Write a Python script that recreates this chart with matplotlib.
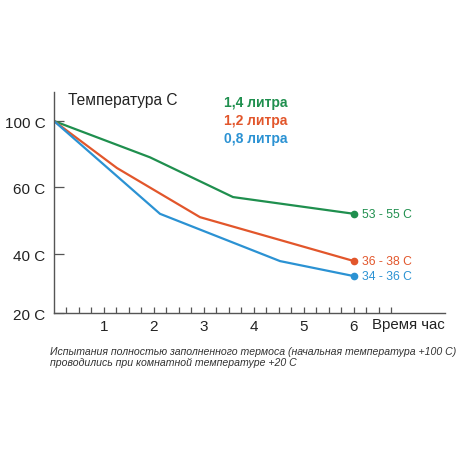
import matplotlib.pyplot as plt
import numpy as np

plt.rcParams['font.family'] = ['Liberation Sans', 'DejaVu Sans']

# Data (hours, temperature C)
hours_14 = [0, 1.92, 3.58, 6]
temp_14 = [100, 78, 57, 52]
hours_12 = [0, 1.26, 2.92, 6]
temp_12 = [100, 71.5, 51, 37.6]
hours_08 = [0, 2.12, 4.52, 6]
temp_08 = [100, 52, 37.6, 32.5]

series_labels = ['1,4 литра', '1,2 литра', '0,8 литра']
end_labels = ['53 - 55 C', '36 - 38 C', '34 - 36 C']
colors = ['#1f8f4e', '#e2562b', '#2b92d3']

ytick_vals = [20, 40, 60, 100]
ytick_labels = ['20 C', '40 C', '60 C', '100 C']
xtick_labels = ['1', '2', '3', '4', '5', '6']
caption = ['Испытания полностью заполненного термоса (начальная температура +100 С)',
           'проводились при комнатной температуре +20 С']

# non-uniform temperature axis (labels are not evenly spaced)
scale_t = [0, 20, 40, 60, 100, 140]
scale_p = [-59, 0, 59, 126, 192, 258]


def fwd(v):
    return np.interp(v, scale_t, scale_p)


def inv(p):
    return np.interp(p, scale_p, scale_t)


fig = plt.figure(figsize=(4.6, 4.6), dpi=100)
ax = fig.add_axes([54 / 460, 146 / 460, 391 / 460, 221 / 460])
ax.set_yscale('function', functions=(fwd, inv))

series = [(hours_14, temp_14), (hours_12, temp_12), (hours_08, temp_08)]
for (h, t), c, lab, end in zip(series, colors, series_labels, end_labels):
    ax.plot(h, t, color=c, lw=1.6, solid_joinstyle='miter')
    ax.plot(h[-1], t[-1], 'o', color=c, ms=4.5)
    ax.annotate(end, (h[-1], t[-1]), xytext=(6, 0), textcoords='offset points',
                color=c, fontsize=8.7, va='center', ha='left')

ax.set_xlim(0, 7.82)
ax.set_ylim(20, 117.6)

xt = np.arange(1, 28) * 0.25
ax.set_xticks(xt)
ax.set_xticklabels([xtick_labels[int(v) - 1] if v == int(v) else '' for v in xt])
ax.tick_params(axis='x', direction='in', length=4.5, width=0.9, colors='#555555',
               labelcolor='#222222', labelsize=11, pad=4.5)

ax.set_yticks(ytick_vals)
ax.set_yticklabels(ytick_labels)
ax.tick_params(axis='y', direction='in', length=7, width=0.9, colors='#555555',
               labelcolor='#222222', labelsize=11, pad=6)

for s in ['top', 'right']:
    ax.spines[s].set_visible(False)
for s in ['left', 'bottom']:
    ax.spines[s].set_color('#555555')
    ax.spines[s].set_linewidth(1.0)

ax.text(0.036, 0.968, 'Температура С', transform=ax.transAxes, fontsize=11.2,
        color='#222222', va='center', ha='left')
for i, (lab, c) in enumerate(zip(series_labels, colors)):
    ax.text(0.435, 0.955 - i * 0.082, lab, transform=ax.transAxes, fontsize=10,
            fontweight='bold', color=c, va='center', ha='left')

ax.text(1.0, -0.05, 'Время час', transform=ax.transAxes, fontsize=10.8,
        color='#222222', va='center', ha='right')

for i, line in enumerate(caption):
    fig.text(50 / 460, 1 - (352 + i * 11.5) / 460, line,
             fontsize=7.6, style='italic', color='#333333', va='center', ha='left')

fig.savefig('out.png', dpi=100)
